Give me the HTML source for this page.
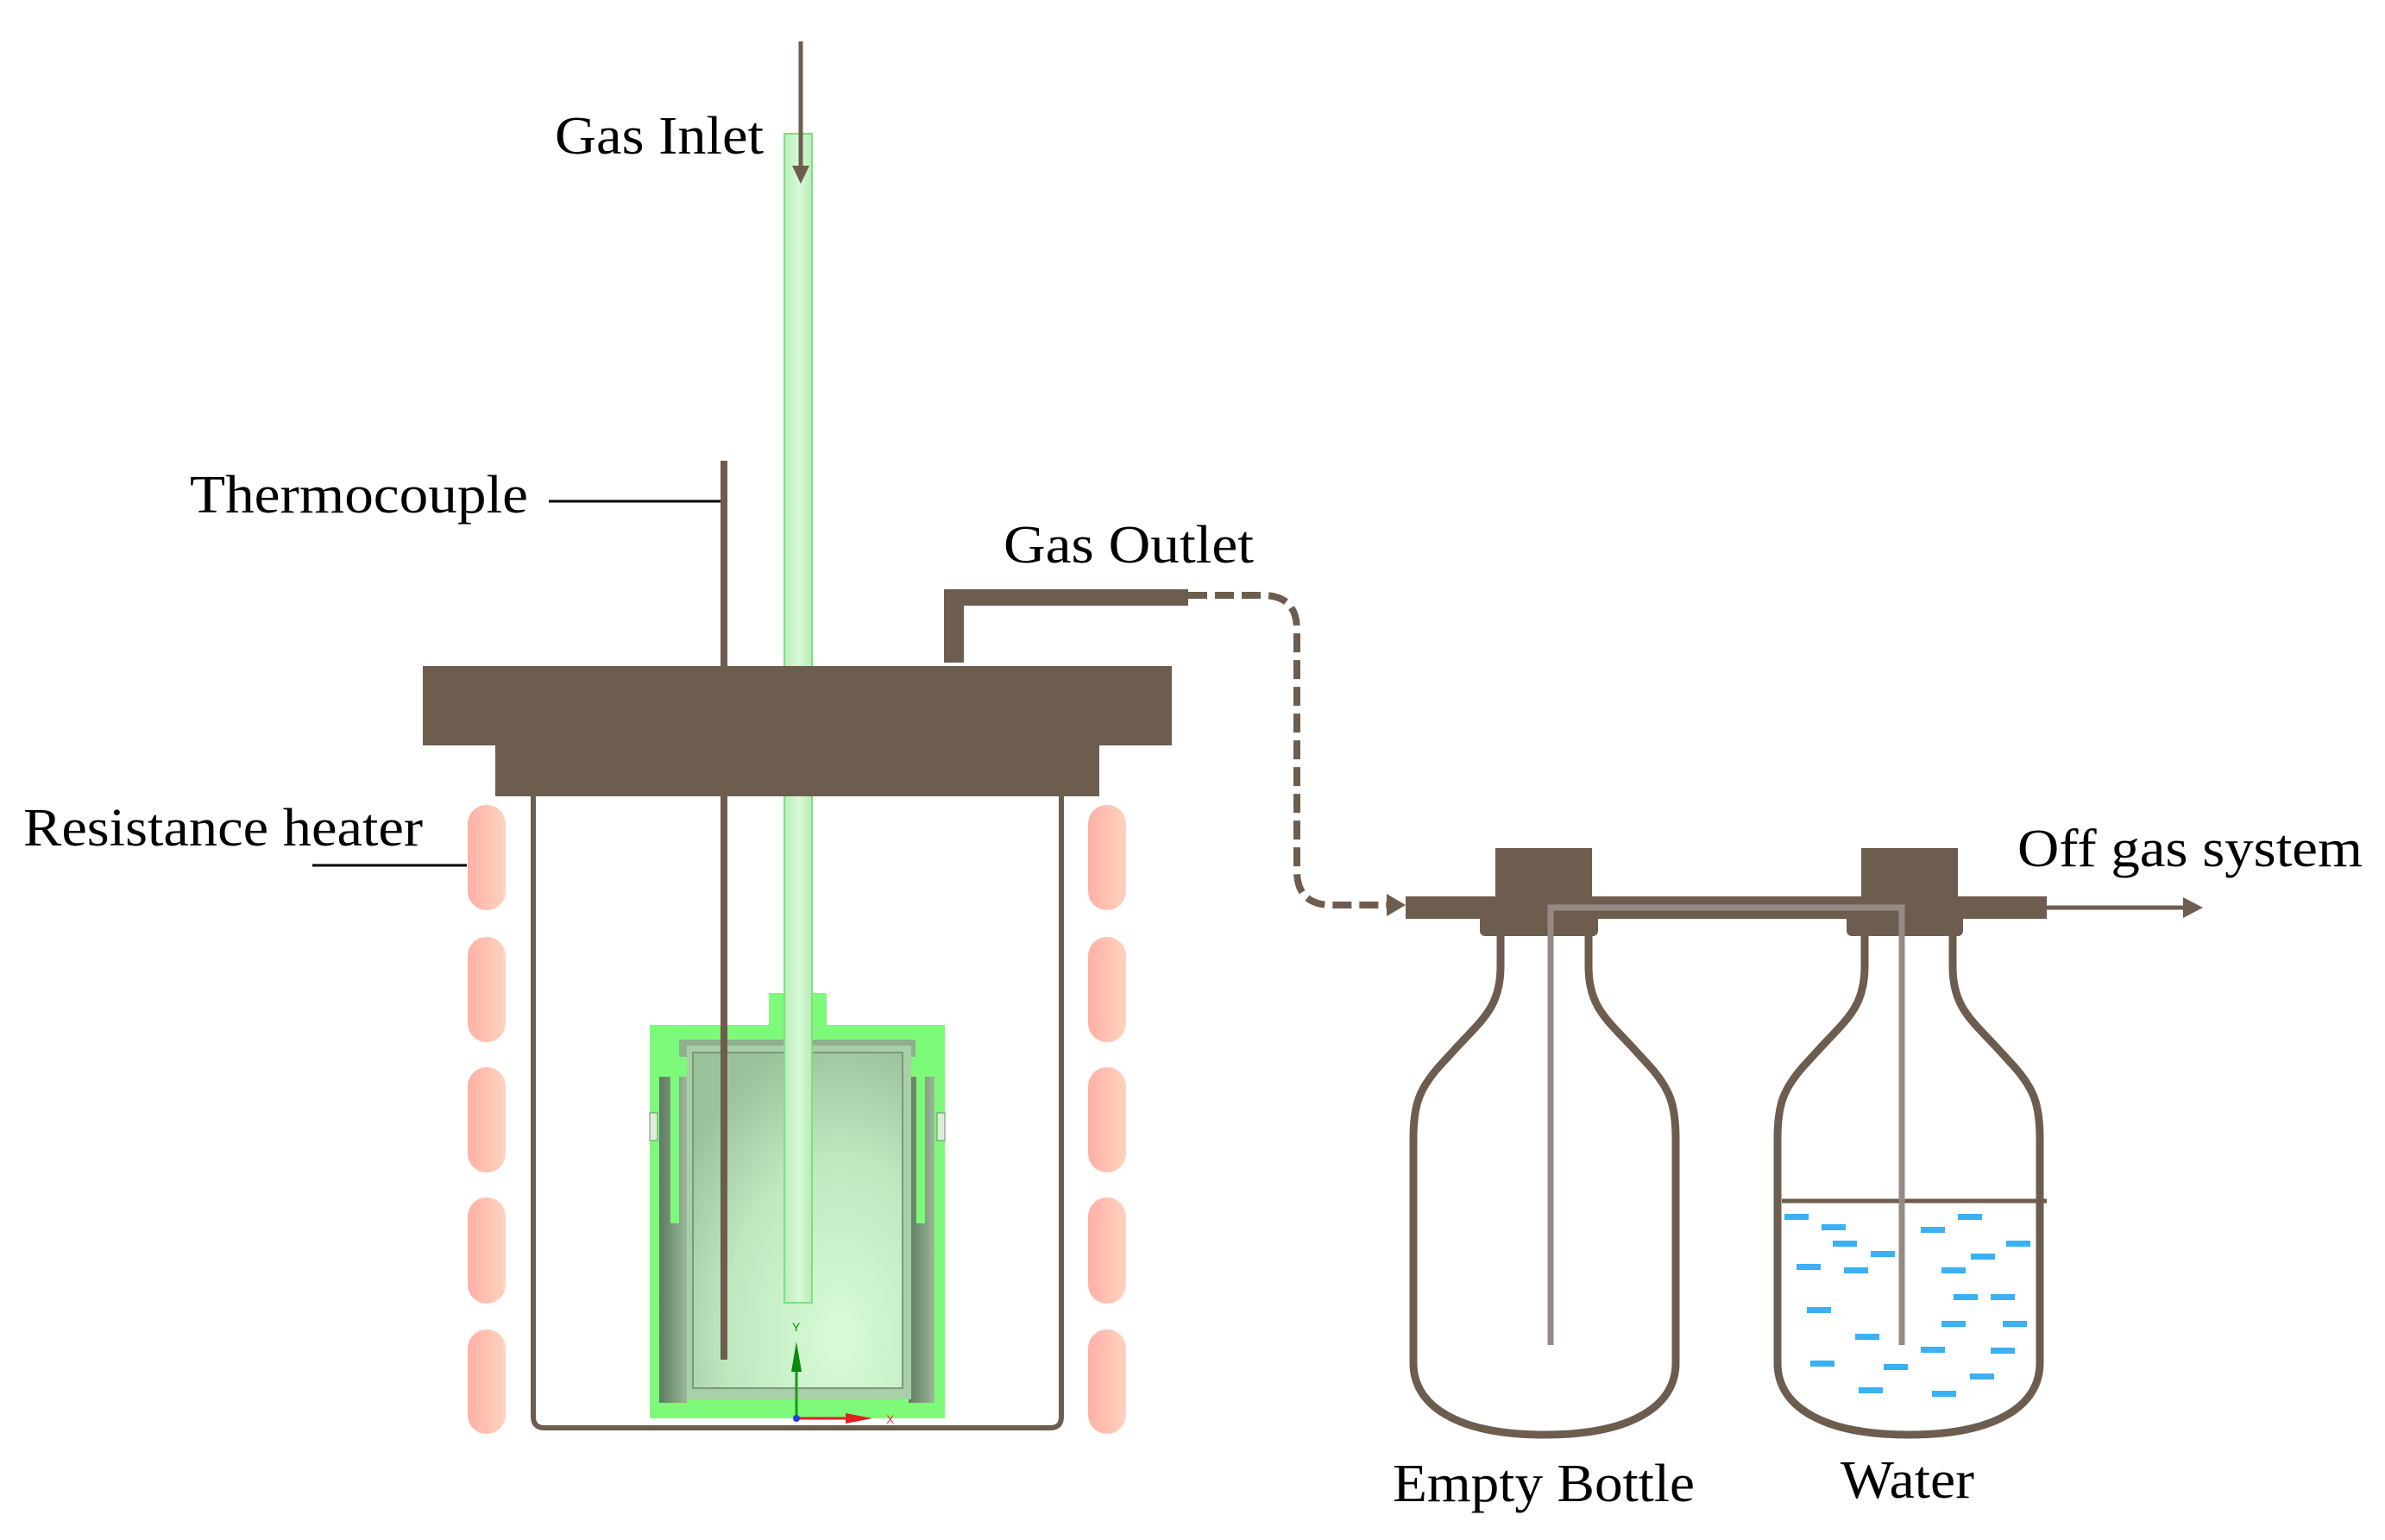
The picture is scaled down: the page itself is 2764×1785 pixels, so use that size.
<!DOCTYPE html>
<html><head><meta charset="utf-8"><style>
html,body{margin:0;padding:0;background:#fff;}
svg{display:block;}
text{font-family:"Liberation Serif",serif;font-size:62px;fill:#000;}
</style></head><body>
<svg width="2764" height="1785" viewBox="0 0 2764 1785" xmlns="http://www.w3.org/2000/svg">
<defs>
<linearGradient id="heat" x1="0" x2="1" y1="0" y2="0"><stop offset="0" stop-color="#ffb0a6"/><stop offset="1" stop-color="#ffd2bf"/></linearGradient>
<linearGradient id="tube" x1="0" x2="1"><stop offset="0" stop-color="#b8ecb8"/><stop offset="0.5" stop-color="#d8fad8"/><stop offset="1" stop-color="#b8ecb8"/></linearGradient>
<radialGradient id="cru" cx="0.7" cy="0.85" r="0.9"><stop offset="0" stop-color="#d8fcd8"/><stop offset="0.6" stop-color="#bfe8bf"/><stop offset="1" stop-color="#9cc29c"/></radialGradient>
<linearGradient id="slot" x1="0" x2="1"><stop offset="0" stop-color="#5f7a5f"/><stop offset="1" stop-color="#9ab89a"/></linearGradient>
</defs>
<g fill="url(#heat)">
<rect x="542" y="933" width="44" height="122" rx="22"/>
<rect x="542" y="1086" width="44" height="122" rx="22"/>
<rect x="542" y="1237" width="44" height="122" rx="22"/>
<rect x="542" y="1388" width="44" height="123" rx="22"/>
<rect x="542" y="1541" width="44" height="121" rx="22"/>
<rect x="1261" y="933" width="44" height="122" rx="22"/>
<rect x="1261" y="1086" width="44" height="122" rx="22"/>
<rect x="1261" y="1237" width="44" height="122" rx="22"/>
<rect x="1261" y="1388" width="44" height="123" rx="22"/>
<rect x="1261" y="1541" width="44" height="121" rx="22"/>
</g>
<path d="M618,920 L618,1642 Q618,1655 631,1655 L1217,1655 Q1230,1655 1230,1642 L1230,920" fill="none" stroke="#6d5d4f" stroke-width="6"/>
<rect x="891" y="1151" width="67" height="40" fill="#7dfa7a"/>
<rect x="753" y="1188" width="342" height="456" fill="#7dfa7a"/>
<rect x="787" y="1205" width="274" height="20" fill="#8fb08f"/>
<rect x="764" y="1248" width="32" height="378" fill="url(#slot)"/>
<rect x="1053" y="1248" width="30" height="378" fill="url(#slot)"/>
<rect x="777" y="1248" width="10" height="170" fill="#7dfa7a"/>
<rect x="1062" y="1248" width="10" height="170" fill="#7dfa7a"/>
<rect x="796" y="1212" width="260" height="410" fill="#a9cfa9"/>
<rect x="803" y="1220" width="243" height="389" fill="url(#cru)" stroke="#7a9a7a" stroke-width="2"/>
<rect x="753" y="1290" width="9" height="32" fill="#d8f0d8" stroke="#6b8a6b" stroke-width="1"/>
<rect x="1086" y="1290" width="9" height="32" fill="#d8f0d8" stroke="#6b8a6b" stroke-width="1"/>
<line x1="923" y1="1644" x2="923" y2="1575" stroke="#1a9a1a" stroke-width="3"/>
<polygon points="917,1590 929,1590 923,1555" fill="#0a8a0a"/>
<text x="918" y="1543" style="font-size:14px;fill:#0a8a0a;font-family:'Liberation Sans',sans-serif">Y</text>
<line x1="923" y1="1644" x2="995" y2="1644" stroke="#e02020" stroke-width="3"/>
<polygon points="980,1638 980,1650 1011,1644" fill="#e02020"/>
<text x="1027" y="1650" style="font-size:14px;fill:#e04040;font-family:'Liberation Sans',sans-serif">X</text>
<circle cx="923" cy="1644" r="4" fill="#2040e0"/>
<rect x="909" y="155" width="32" height="1355" fill="url(#tube)" stroke="#7ce07c" stroke-width="2"/>
<rect x="835" y="534" width="8" height="1042" fill="#6d5d4f"/>
<rect x="490" y="772" width="868" height="92" fill="#6d5d4f"/>
<rect x="574" y="863" width="700" height="60" fill="#6d5d4f"/>
<rect x="1094" y="683" width="23" height="85" fill="#6d5d4f"/>
<rect x="1094" y="683" width="283" height="19" fill="#6d5d4f"/>
<path d="M1377,690 L1463,690 Q1503,690 1503,730 L1503,1009 Q1503,1049 1543,1049 L1607,1049" fill="none" stroke="#6d5d4f" stroke-width="8" stroke-dasharray="22,9"/>
<polygon points="1607,1036 1607,1062 1629,1049" fill="#6d5d4f"/>
<line x1="928" y1="48" x2="928" y2="200" stroke="#6d5d4f" stroke-width="5"/>
<polygon points="918,192 938,192 928,213" fill="#6d5d4f"/>
<line x1="636" y1="581" x2="835" y2="581" stroke="#000" stroke-width="3"/>
<line x1="362" y1="1003" x2="541" y2="1003" stroke="#000" stroke-width="3"/>
<g id="b1">
<path d="M1739,1085 L1739,1120 C1739,1165 1720,1180 1690,1212 L1668,1236 C1645,1262 1638,1280 1638,1320 L1638,1580 C1638,1630 1690,1663 1790,1663 C1890,1663 1942,1630 1942,1580 L1942,1320 C1942,1280 1935,1262 1912,1236 L1890,1212 C1860,1180 1841,1165 1841,1120 L1841,1085" fill="none" stroke="#6d5d4f" stroke-width="9"/>
</g>
<use href="#b1" transform="translate(422,0)"/>
<line x1="2065" y1="1392" x2="2372" y2="1392" stroke="#6d5d4f" stroke-width="5"/>
<g fill="#3ab0f5">
<rect x="2068" y="1407" width="28" height="7"/>
<rect x="2111" y="1419" width="28" height="7"/>
<rect x="2124" y="1438" width="28" height="7"/>
<rect x="2168" y="1450" width="28" height="7"/>
<rect x="2082" y="1465" width="28" height="7"/>
<rect x="2137" y="1469" width="28" height="7"/>
<rect x="2226" y="1422" width="28" height="7"/>
<rect x="2269" y="1407" width="28" height="7"/>
<rect x="2325" y="1438" width="28" height="7"/>
<rect x="2284" y="1453" width="28" height="7"/>
<rect x="2250" y="1469" width="28" height="7"/>
<rect x="2264" y="1500" width="28" height="7"/>
<rect x="2307" y="1500" width="28" height="7"/>
<rect x="2094" y="1515" width="28" height="7"/>
<rect x="2250" y="1531" width="28" height="7"/>
<rect x="2321" y="1531" width="28" height="7"/>
<rect x="2150" y="1546" width="28" height="7"/>
<rect x="2226" y="1561" width="28" height="7"/>
<rect x="2307" y="1562" width="28" height="7"/>
<rect x="2098" y="1577" width="28" height="7"/>
<rect x="2183" y="1581" width="28" height="7"/>
<rect x="2283" y="1592" width="28" height="7"/>
<rect x="2154" y="1608" width="28" height="7"/>
<rect x="2239" y="1612" width="28" height="7"/>
</g>
<g fill="#6d5d4f">
<rect x="1629" y="1039" width="743" height="26"/>
<rect x="1733" y="983" width="112" height="90"/>
<rect x="1715" y="1060" width="137" height="25" rx="6"/>
<rect x="2157" y="983" width="112" height="90"/>
<rect x="2140" y="1060" width="135" height="25" rx="6"/>
</g>
<path d="M1797,1559 L1797,1052 L2204,1052 L2204,1559" fill="none" stroke="#958b84" stroke-width="7"/>
<line x1="2372" y1="1052" x2="2535" y2="1052" stroke="#6d5d4f" stroke-width="5"/>
<polygon points="2530,1040 2530,1064 2553,1052" fill="#6d5d4f"/>
<text x="643" y="178" textLength="242" lengthAdjust="spacingAndGlyphs">Gas Inlet</text>
<text x="220" y="594" textLength="392" lengthAdjust="spacingAndGlyphs">Thermocouple</text>
<text x="1163" y="652" textLength="290" lengthAdjust="spacingAndGlyphs">Gas Outlet</text>
<text x="27" y="980" textLength="463" lengthAdjust="spacingAndGlyphs">Resistance heater</text>
<text x="2338" y="1004" textLength="400" lengthAdjust="spacingAndGlyphs">Off gas system</text>
<text x="1614" y="1740" textLength="350" lengthAdjust="spacingAndGlyphs">Empty Bottle</text>
<text x="2133" y="1736" textLength="155" lengthAdjust="spacingAndGlyphs">Water</text>
</svg>
</body></html>
